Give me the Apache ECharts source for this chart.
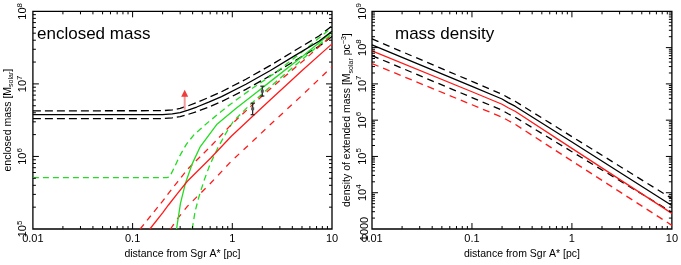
<!DOCTYPE html>
<html><head><meta charset="utf-8">
<script src="https://cdn.jsdelivr.net/npm/echarts@6/dist/echarts.min.js"></script>
<style>html,body{margin:0;padding:0;background:#fff}#c{width:681px;height:265px}</style>
</head><body><div id="c"></div>
<script>
// ---------- Left panel: enclosed mass [M_solar] vs distance [pc] ----------
const massBlackX  = [0.01, 0.2, 0.25, 0.3, 0.36, 0.44, 0.58, 0.78, 1.37, 2.41, 4.24, 7.46, 10];
const massBlack   = [3.76e6, 3.77e6, 3.86e6, 4.03e6, 4.35e6, 4.8e6, 5.6e6, 6.67e6, 9.9e6, 1.53e7, 2.45e7, 3.9e7, 5.3e7];
const massBlackUp = [4.25e6, 4.27e6, 4.38e6, 4.6e6, 4.98e6, 5.55e6, 6.5e6, 7.8e6, 1.16e7, 1.8e7, 2.88e7, 4.6e7, 6.3e7];
const massBlackLo = [3.32e6, 3.33e6, 3.41e6, 3.55e6, 3.8e6, 4.15e6, 4.8e6, 5.7e6, 8.4e6, 1.3e7, 2.08e7, 3.32e7, 4.5e7];

const greenX   = [0.276, 0.302, 0.338, 0.396, 0.474, 0.697, 1.094, 1.72, 2.70, 5.08, 10];
const green    = [1e5, 2.26e5, 4.23e5, 7.9e5, 1.34e6, 2.75e6, 4.6e6, 7.5e6, 1.22e7, 2.4e7, 5.2e7];
const greenUpX = [0.01, 0.22, 0.235, 0.264, 0.296, 0.346, 0.415, 0.582, 0.914, 1.53, 2.70, 5.08, 10];
const greenUp  = [5.1e5, 5.1e5, 5.2e5, 7.2e5, 1.01e6, 1.47e6, 2.01e6, 3.02e6, 5.0e6, 8.4e6, 1.42e7, 2.8e7, 6.0e7];
const greenLoX = [0.396, 0.424, 0.464, 0.520, 0.595, 0.713, 0.873, 1.023, 1.47, 2.41, 5.08, 10];
const greenLo  = [1e5, 1.76e5, 2.81e5, 4.63e5, 7.64e5, 1.3e6, 2.15e6, 3.05e6, 5.0e6, 9.2e6, 2.2e7, 4.9e7];

const redX   = [0.149, 0.2, 0.23, 0.28, 0.354, 0.608, 0.977, 1.64, 2.41, 5.08, 10];
const red    = [1e5, 1.67e5, 2.16e5, 3.05e5, 4.55e5, 9.5e5, 1.9e6, 3.7e6, 6.05e6, 1.55e7, 3.56e7];
const redUpX = [0.119, 0.2, 0.23, 0.28, 0.354, 0.608, 0.977, 1.64, 2.41, 5.08, 10];
const redUp  = [1e5, 2.42e5, 3.13e5, 4.4e5, 6.6e5, 1.38e6, 2.75e6, 5.35e6, 8.6e6, 2.05e7, 4.7e7];
const redLoX = [0.24, 0.28, 0.354, 0.608, 0.977, 1.64, 2.41, 5.08, 10];
const redLo  = [1e5, 1.37e5, 2.05e5, 4.3e5, 8.6e5, 1.67e6, 2.75e6, 7.1e6, 1.72e7];

const arrowX = 0.333, arrowFrom = 4.4e6, arrowTo = 8.3e6;
const errX   = [1.60, 2.0];
const errMid = [4.54e6, 7.95e6];
const errLo  = [3.76e6, 6.8e6];
const errHi  = [5.42e6, 9.3e6];

// ---------- Right panel: density of extended mass ----------
const rhoX        = [0.01, 0.1, 0.2, 0.23, 0.27, 1, 10];
const rhoBlack    = [1.19e8, 8.5e6, 3.83e6, 3.05e6, 2.43e6, 2.49e5, 4.44e3];
const rhoBlackUp  = [1.74e8, 1.17e7, 5.2e6, 4.2e6, 3.32e6, 3.52e5, 6.9e3];
const rhoBlackLo  = [6.03e7, 4.2e6, 1.88e6, 1.5e6, 1.21e6, 1.35e5, 2.9e3];
const rhoRed      = [8.13e7, 6.07e6, 2.75e6, 2.2e6, 1.76e6, 1.67e5, 2.69e3];
const rhoRedLo    = [3.63e7, 2.66e6, 1.21e6, 9.8e5, 7.7e5, 7.5e4, 1.26e3];

// ---------- tick values ----------
const xTickLabels = ['0.01', '0.1', '1', '10'];
const xMajorInner = [0.1, 1];
const xMinor = [0.02,0.03,0.04,0.05,0.06,0.07,0.08,0.09,0.2,0.3,0.4,0.5,0.6,0.7,0.8,0.9,2,3,4,5,6,7,8,9];
const yMajorLeft = [1e6, 1e7];
const yMinorLeft = [2e5,3e5,4e5,5e5,6e5,7e5,8e5,9e5,2e6,3e6,4e6,5e6,6e6,7e6,8e6,9e6,2e7,3e7,4e7,5e7,6e7,7e7,8e7,9e7];
const yMajorRight = [1e4, 1e5, 1e6, 1e7, 1e8];
const yMinorRight = [];
[1e3,1e4,1e5,1e6,1e7,1e8].forEach(d => [2,3,4,5,6,7,8,9].forEach(k => yMinorRight.push(k*d)));

const FONT = "'Liberation Sans', Arial, Helvetica, sans-serif";
const BLACK = '#000000', RED = '#ff1a1a', GREEN = '#22dd22';

function zip(xs, ys) { return xs.map((x, i) => [x, ys[i]]); }
function line(xi, xs, ys, color, dashed, dash) {
  return {
    type: 'line', xAxisIndex: xi, yAxisIndex: xi, data: zip(xs, ys),
    symbol: 'none', smooth: false, silent: true,
    lineStyle: { color, width: 1.3, type: dashed ? (dash || [7, 4]) : 'solid' }, z: 3
  };
}
function tickSeries(idx, xMaj, xMin, yMaj, yMin, x0, y0) {
  const data = [];
  xMaj.forEach(v => data.push([v, y0, 0]));
  xMin.forEach(v => data.push([v, y0, 1]));
  yMaj.forEach(v => data.push([x0, v, 2]));
  yMin.forEach(v => data.push([x0, v, 3]));
  return {
    type: 'custom', xAxisIndex: idx, yAxisIndex: idx, silent: true, clip: false, z: 6,
    data, encode: { x: 0, y: 1 },
    renderItem(params, api) {
      const cs = params.coordSys;
      const kind = api.value(2);
      const p = api.coord([api.value(0), api.value(1)]);
      const st = { stroke: '#000', lineWidth: 1 };
      const len = (kind === 0 || kind === 2) ? 6 : 3;
      if (kind < 2) {
        const b = cs.y + cs.height, t = cs.y;
        return { type: 'group', children: [
          { type: 'line', shape: { x1: p[0], y1: b, x2: p[0], y2: b - len }, style: st },
          { type: 'line', shape: { x1: p[0], y1: t, x2: p[0], y2: t + len }, style: st }
        ]};
      }
      const l = cs.x, r = cs.x + cs.width;
      return { type: 'group', children: [
        { type: 'line', shape: { x1: l, y1: p[1], x2: l + len, y2: p[1] }, style: st },
        { type: 'line', shape: { x1: r, y1: p[1], x2: r - len, y2: p[1] }, style: st }
      ]};
    }
  };
}
function powLabel(v, plainBelow) {
  const e = Math.round(Math.log10(v));
  if (plainBelow && e <= 3) return String(Math.round(v));
  return '{b|10}{s|' + e + '}';
}
const richPow = {
  b: { fontSize: 11, fontFamily: FONT, color: '#000', lineHeight: 15 },
  s: { fontSize: 8, fontFamily: FONT, color: '#000', verticalAlign: 'top' }
};

const xAxisCommon = {
  type: 'log', logBase: 10, min: 0.01, max: 10,
  axisLine: { show: false }, axisTick: { show: false }, splitLine: { show: false }, minorTick: { show: false },
  axisLabel: { fontSize: 11, fontFamily: FONT, color: '#000', margin: 4,
    formatter: v => { const e = Math.round(Math.log10(v)); return xTickLabels[e + 2]; } },
  name: 'distance from Sgr A* [pc]', nameLocation: 'middle', nameGap: 20,
  nameTextStyle: { fontSize: 10.5, fontFamily: FONT, color: '#000' }
};

const option = {
  animation: false,
  backgroundColor: '#fff',
  title: [
    { text: 'enclosed mass', left: 32, top: 21, textStyle: { fontSize: 17, fontWeight: 'normal', fontFamily: FONT, color: '#000' } },
    { text: 'mass density', left: 390, top: 21, textStyle: { fontSize: 17, fontWeight: 'normal', fontFamily: FONT, color: '#000' } }
  ],
  grid: [
    { left: 27, top: 10, width: 305, height: 221, show: true, borderColor: '#000', borderWidth: 1.3, backgroundColor: 'transparent' },
    { left: 372, top: 10, width: 302, height: 221, show: true, borderColor: '#000', borderWidth: 1.3, backgroundColor: 'transparent' }
  ],
  xAxis: [
    Object.assign({}, xAxisCommon, { gridIndex: 0 }),
    Object.assign({}, xAxisCommon, { gridIndex: 1 })
  ],
  yAxis: [
    { gridIndex: 0, type: 'log', logBase: 10, min: 1e5, max: 1e8,
      axisLine: { show: false }, axisTick: { show: false }, splitLine: { show: false },
      axisLabel: { rotate: 90, margin: 2, formatter: v => powLabel(v, false), rich: richPow },
      name: 'enclosed mass [M{sub|solar}]', nameLocation: 'middle', nameRotate: 90, nameGap: 15,
      nameTextStyle: { fontSize: 10.5, fontFamily: FONT, color: '#000', lineHeight: 14,
        rich: { sub: { fontSize: 7, fontFamily: FONT, color: '#000', verticalAlign: 'bottom' } } } },
    { gridIndex: 1, type: 'log', logBase: 10, min: 1e3, max: 1e9,
      axisLine: { show: false }, axisTick: { show: false }, splitLine: { show: false },
      axisLabel: { rotate: 90, margin: 2, formatter: v => powLabel(v, true), rich: richPow, fontSize: 11, fontFamily: FONT, color: '#000' },
      name: 'density of extended mass [M{sub|solar} pc{sup|−3}]', nameLocation: 'middle', nameRotate: 90, nameGap: 15,
      nameTextStyle: { fontSize: 10.5, fontFamily: FONT, color: '#000', lineHeight: 14,
        rich: { sub: { fontSize: 7, fontFamily: FONT, color: '#000', verticalAlign: 'bottom' },
                sup: { fontSize: 7, fontFamily: FONT, color: '#000', verticalAlign: 'top' } } } }
  ],
  series: [
    line(0, massBlackX, massBlackUp, BLACK, true, [8, 4]),
    line(0, massBlackX, massBlackLo, BLACK, true, [8, 4]),
    line(0, greenUpX, greenUp, GREEN, true, [6, 4]),
    line(0, greenLoX, greenLo, GREEN, true, [6, 4]),
    line(0, redUpX, redUp, RED, true, [6, 5]),
    line(0, redLoX, redLo, RED, true, [6, 6]),
    line(0, greenX, green, GREEN, false),
    line(0, redX, red, RED, false),
    line(0, massBlackX, massBlack, BLACK, false),
    {
      type: 'custom', xAxisIndex: 0, yAxisIndex: 0, silent: true, z: 7,
      data: [[arrowX, arrowFrom, arrowTo]], encode: { x: 0, y: 1 },
      renderItem(params, api) {
        const a = api.coord([api.value(0), api.value(1)]);
        const b = api.coord([api.value(0), api.value(2)]);
        return { type: 'group', children: [
          { type: 'line', shape: { x1: a[0], y1: a[1], x2: b[0], y2: b[1] + 6 }, style: { stroke: '#f59a9a', lineWidth: 2 } },
          { type: 'polygon', shape: { points: [[b[0], b[1]], [b[0] - 3.5, b[1] + 7], [b[0] + 3.5, b[1] + 7]] }, style: { fill: '#f03c3c' } }
        ]};
      }
    },
    {
      type: 'custom', xAxisIndex: 0, yAxisIndex: 0, silent: true, z: 7,
      data: errX.map((x, i) => [x, errMid[i], errLo[i], errHi[i]]), encode: { x: 0, y: 1 },
      renderItem(params, api) {
        const m = api.coord([api.value(0), api.value(1)]);
        const lo = api.coord([api.value(0), api.value(2)]);
        const hi = api.coord([api.value(0), api.value(3)]);
        const st = { stroke: '#222', lineWidth: 1.2 };
        return { type: 'group', children: [
          { type: 'line', shape: { x1: m[0], y1: lo[1], x2: m[0], y2: hi[1] }, style: st },
          { type: 'line', shape: { x1: m[0] - 2, y1: lo[1], x2: m[0] + 2, y2: lo[1] }, style: st },
          { type: 'line', shape: { x1: m[0] - 2, y1: hi[1], x2: m[0] + 2, y2: hi[1] }, style: st },
          { type: 'rect', shape: { x: m[0] - 1.5, y: m[1] - 1.5, width: 3, height: 3 }, style: { fill: '#555' } }
        ]};
      }
    },
    tickSeries(0, xMajorInner, xMinor, yMajorLeft, yMinorLeft, 0.01, 1e5),

    line(1, rhoX, rhoBlackUp, BLACK, true, [7, 5]),
    line(1, rhoX, rhoBlackLo, BLACK, true, [7, 5]),
    line(1, rhoX, rhoRedLo, RED, true, [7, 5]),
    line(1, rhoX, rhoRed, RED, false),
    line(1, rhoX, rhoBlack, BLACK, false),
    tickSeries(1, xMajorInner, xMinor, yMajorRight, yMinorRight, 0.01, 1e3)
  ]
};
const chart = echarts.init(document.getElementById('c'), null, { renderer: 'canvas' });
chart.setOption(option);
</script>
</body></html>
